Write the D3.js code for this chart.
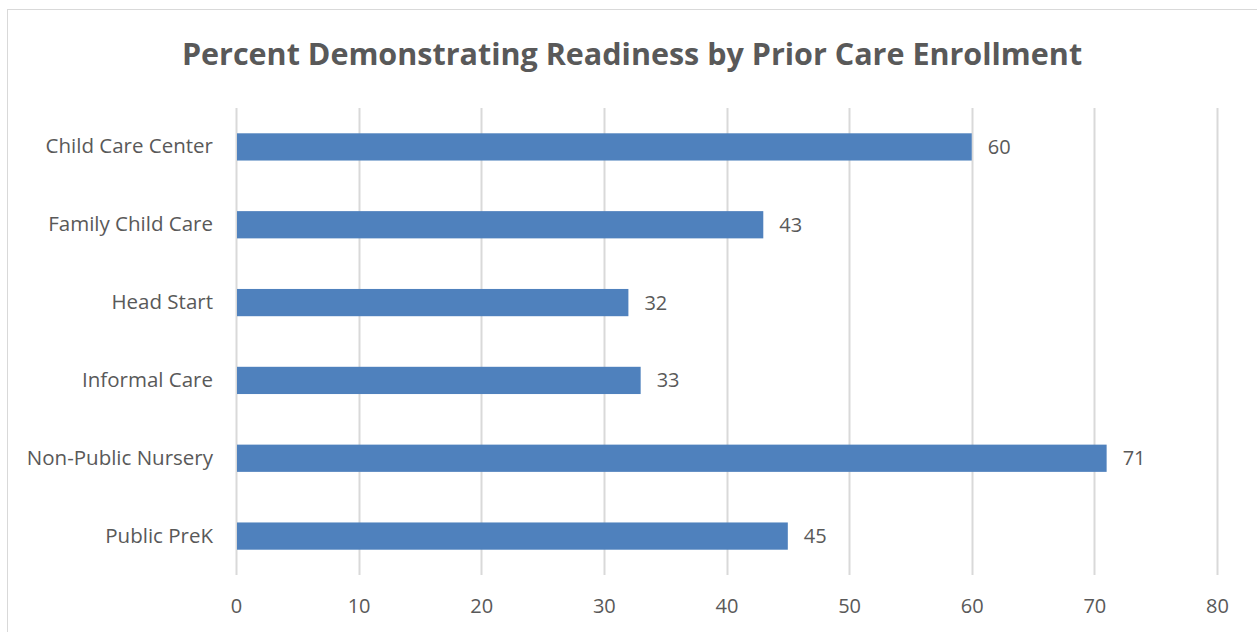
<!DOCTYPE html>
<html>
<head>
<meta charset="utf-8">
<script src="https://cdn.jsdelivr.net/npm/d3@7"></script>
<style>
  body { margin: 0; background: #fff; }
  text { font-family: "Open Sans", sans-serif; fill: #595959; }
</style>
</head>
<body>
<svg id="chart" width="1257" height="632"></svg>
<script>
var categories = ["Child Care Center", "Family Child Care", "Head Start", "Informal Care", "Non-Public Nursery", "Public PreK"];
var values = [60, 43, 32, 33, 71, 45];
var xTicks = [0, 10, 20, 30, 40, 50, 60, 70, 80];
var title = "Percent Demonstrating Readiness by Prior Care Enrollment";

var svg = d3.select("#chart");

// chart frame
svg.append("rect")
    .attr("x", 7.5).attr("y", 9.5)
    .attr("width", 1262).attr("height", 640)
    .attr("fill", "none")
    .attr("stroke", "#d9d9d9")
    .attr("stroke-width", 1);

var x = d3.scaleLinear().domain([0, 80]).range([236, 1217]);
var y = d3.scaleBand().domain(categories).range([108, 575]).paddingInner(0.65).paddingOuter(0.325);

svg.append("text")
    .attr("x", 632).attr("y", 65)
    .attr("text-anchor", "middle")
    .style("font-size", "30.5px")
    .style("font-weight", "bold")
    .text(title);

// gridlines
svg.selectAll(".grid")
    .data(xTicks)
    .enter().append("line")
    .attr("class", "grid")
    .attr("x1", function (d) { return Math.round(x(d)) + 0.5; })
    .attr("x2", function (d) { return Math.round(x(d)) + 0.5; })
    .attr("y1", 108).attr("y2", 575)
    .attr("stroke", "#d9d9d9")
    .attr("stroke-width", 2);

var xAxis = svg.append("g")
    .attr("transform", "translate(0,575)")
    .call(d3.axisBottom(x).tickValues(xTicks).tickSize(0).tickPadding(24));
xAxis.select(".domain").remove();
xAxis.selectAll("text")
    .style("font-size", "20px")
    .attr("fill", "#595959");

var yAxis = svg.append("g")
    .attr("transform", "translate(213,0)")
    .call(d3.axisLeft(y).tickSize(0).tickPadding(0));
yAxis.select(".domain").remove();
yAxis.selectAll("text")
    .style("font-size", "20.5px")
    .attr("fill", "#595959");

svg.selectAll(".bar")
    .data(values)
    .enter().append("rect")
    .attr("class", "bar")
    .attr("x", x(0) + 1)
    .attr("y", function (d, i) { return y(categories[i]); })
    .attr("width", function (d) { return x(d) - x(0) - 1; })
    .attr("height", y.bandwidth())
    .attr("fill", "#4f81bd");

svg.selectAll(".label")
    .data(values)
    .enter().append("text")
    .attr("class", "label")
    .attr("x", function (d) { return x(d) + 16; })
    .attr("y", function (d, i) { return y(categories[i]) + y.bandwidth() / 2; })
    .attr("dy", "0.35em")
    .style("font-size", "20px")
    .text(function (d) { return d; });
</script>
</body>
</html>
